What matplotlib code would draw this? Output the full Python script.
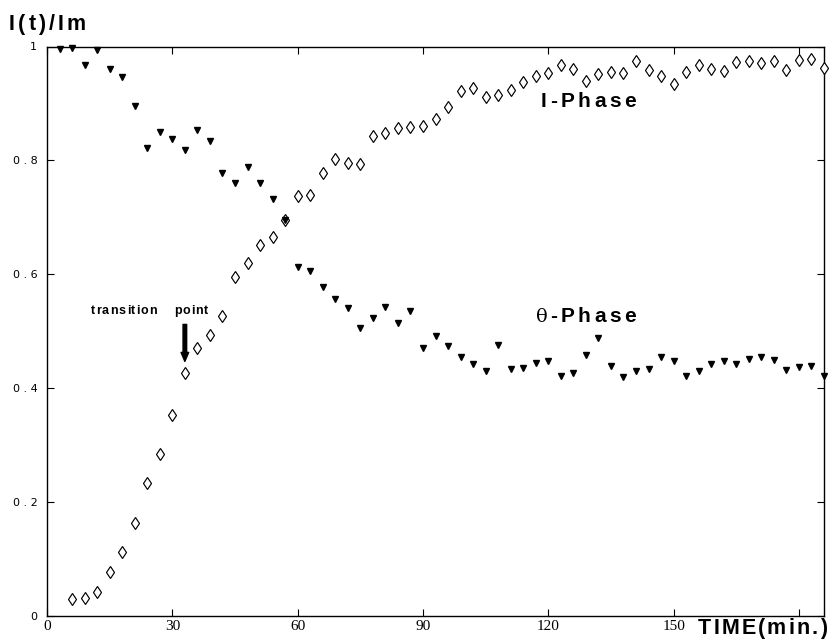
import matplotlib
matplotlib.use("Agg")
import matplotlib.pyplot as plt

W, H = 830, 642

# ---- data ----
i_phase_time = list(range(6, 187, 3))
i_phase = [0.029, 0.031, 0.043, 0.077, 0.112, 0.164, 0.233, 0.284, 0.353, 0.427,
           0.470, 0.494, 0.526, 0.596, 0.620, 0.651, 0.665, 0.696, 0.737, 0.740,
           0.778, 0.803, 0.796, 0.794, 0.843, 0.848, 0.857, 0.858, 0.860, 0.872,
           0.893, 0.922, 0.927, 0.912, 0.915, 0.924, 0.938, 0.949, 0.954, 0.968,
           0.961, 0.940, 0.951, 0.956, 0.953, 0.974, 0.958, 0.948, 0.935, 0.955,
           0.968, 0.960, 0.957, 0.972, 0.974, 0.971, 0.974, 0.959, 0.977, 0.978,
           0.962]

theta_time = list(range(3, 187, 3))
theta_phase = [0.996, 0.997, 0.967, 0.994, 0.960, 0.947, 0.896, 0.822, 0.849, 0.837,
               0.818, 0.854, 0.834, 0.778, 0.761, 0.788, 0.760, 0.732, 0.696, 0.612,
               0.606, 0.578, 0.556, 0.540, 0.505, 0.523, 0.542, 0.514, 0.535, 0.470,
               0.491, 0.474, 0.454, 0.443, 0.430, 0.475, 0.434, 0.436, 0.444, 0.447,
               0.422, 0.427, 0.459, 0.489, 0.439, 0.419, 0.430, 0.433, 0.455, 0.447,
               0.421, 0.430, 0.443, 0.448, 0.442, 0.451, 0.455, 0.450, 0.432, 0.437,
               0.439, 0.421]

x_ticks = [0, 30, 60, 90, 120, 150, 180]
x_tick_labels = ["0", "30", "60", "90", "120", "150", ""]
y_ticks = [0, 0.2, 0.4, 0.6, 0.8, 1.0]
y_tick_labels = ["0", "0 . 2", "0 . 4", "0 . 6", "0 . 8", "1"]

transition_time = 33

# ---- figure ----
fig = plt.figure(figsize=(W / 100, H / 100), dpi=100)
left_px, right_px, top_px, bottom_px = 47, 824, 46.5, 616
ax = fig.add_axes([left_px / W, 1 - bottom_px / H,
                   (right_px - left_px) / W, (bottom_px - top_px) / H])
ax.set_xlim(0, 186)
ax.set_ylim(0, 1)

ax.plot(i_phase_time, i_phase, linestyle="none", marker="d", ms=6.5,
        mfc="white", mec="black", mew=0.85, zorder=3, clip_on=False)
ax.plot(theta_time, theta_phase, linestyle="none", marker="v", ms=3.8,
        color="black", zorder=4, clip_on=False)

for sp in ax.spines.values():
    sp.set_linewidth(1.0)

ax.set_xticks(x_ticks)
ax.set_xticklabels(x_tick_labels, fontfamily="Liberation Serif", fontsize=11)
ax.set_yticks(y_ticks)
ax.set_yticklabels(y_tick_labels, fontfamily="DejaVu Sans", fontsize=8)
ax.tick_params(axis="both", direction="in", top=True, right=True,
               length=5, width=0.8)
ax.tick_params(axis="x", pad=3)
ax.tick_params(axis="y", pad=7)

# arrow for transition point
ax.annotate("", xy=(transition_time, 0.447), xytext=(transition_time, 0.512),
            arrowprops=dict(facecolor="black", edgecolor="black", width=2.6,
                            headwidth=5.5, headlength=6.5, shrink=0))

renderer = fig.canvas.get_renderer()


def tracked_text(x0, x1, base_y, s, size, weight="bold",
                 family="Liberation Sans"):
    """Draw string char by char so it spans x0..x1 (pixels) at baseline base_y."""
    items = []
    total = 0.0
    for ch in s:
        if ch == " ":
            items.append((None, size * 0.45))
            total += size * 0.45
            continue
        t = fig.text(0, 0, ch, fontsize=size, fontweight=weight,
                     family=family, ha="left", va="baseline")
        w = t.get_window_extent(renderer).width
        items.append((t, w))
        total += w
    gaps = len(s) - 1
    track = (x1 - x0 - total) / gaps if gaps > 0 else 0
    x = x0
    for t, w in items:
        if t is not None:
            t.set_position((x / W, 1 - base_y / H))
        x += w + track


tracked_text(9, 86, 30, "I(t)/Im", 15.5)
tracked_text(698, 827, 634, "TIME(min.)", 15.5)
tracked_text(541, 636, 107, "I-Phase", 15)
fig.text(536 / W, 1 - 322 / H, "θ", fontsize=14, family="DejaVu Serif",
         ha="left", va="baseline")
tracked_text(550, 636, 322, "-Phase", 15)
tracked_text(91, 157, 314, "transition", 9)
tracked_text(174, 208, 314, "point", 9)

fig.savefig("out.png", dpi=100)
